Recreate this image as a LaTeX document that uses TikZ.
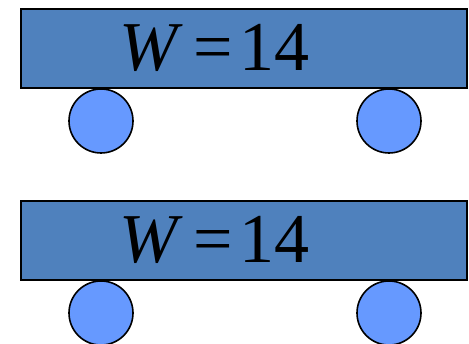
\documentclass[tikz,border=0pt]{standalone}
\usepackage{fontspec}
\newfontfamily\cartfont{Liberation Serif}
\definecolor{cartblue}{RGB}{79,129,189}
\definecolor{wheelblue}{RGB}{102,153,255}
\begin{document}
\begin{tikzpicture}[x=1pt,y=-1pt,
  cart/.style={draw=black,line width=2pt,fill=cartblue},
  wheel/.style={draw=black,line width=1.6pt,fill=wheelblue},
  lbl/.style={inner sep=0pt,anchor=base west,font=\cartfont\fontsize{70}{70}\selectfont}]
\useasboundingbox (0,0) rectangle (469,344);
\foreach \y/\n in {0/a,192/b}{
  \begin{scope}[yshift=-\y]
    \draw[wheel] (101,121) circle (32);
    \draw[wheel] (389,121) circle (32);
    \draw[cart] (21,9) rectangle (467,88);
    \node[lbl] (w\n) at (119,71) {\itshape W};
    \node[lbl] (eq\n) at (193,71) {=};
    \node[lbl] (v\n) at (239,71) {14};
  \end{scope}
}
\end{tikzpicture}
\end{document}
